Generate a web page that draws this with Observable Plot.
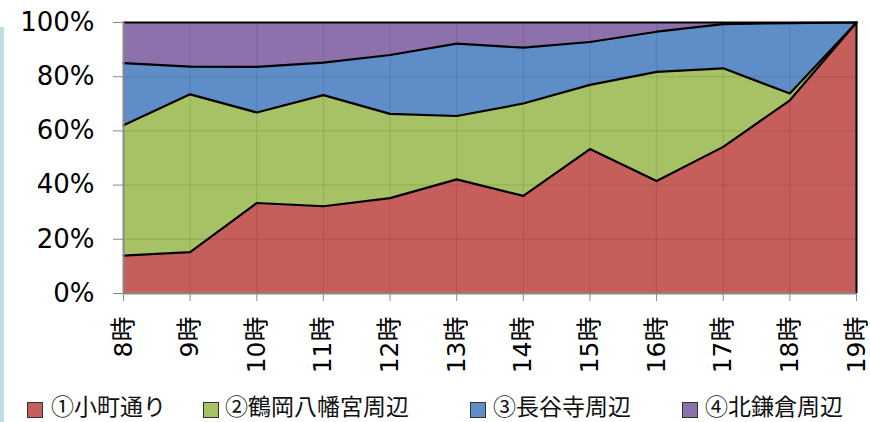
<!DOCTYPE html>
<html>
<head>
<meta charset="utf-8">
<script src="https://cdn.jsdelivr.net/npm/d3@7"></script>
<script src="https://cdn.jsdelivr.net/npm/@observablehq/plot@0.6"></script>
<style>
  html, body { margin: 0; padding: 0; background: white; }
  #wrap { position: relative; width: 870px; height: 422px; overflow: hidden; font-family: "DejaVu Sans", "Noto Sans CJK JP", sans-serif; }
  #strip { position: absolute; left: 0; top: 27px; width: 4px; height: 395px; background: #B9DFE6; z-index: 3; }
  #chart { position: absolute; left: 0; top: 0; z-index: 1; }
  #legend { position: absolute; left: 0; top: 0; width: 870px; height: 422px; z-index: 2; }
  .leg { position: absolute; top: 388px; height: 34px; line-height: 34px; font-family: "Noto Sans CJK JP", "DejaVu Sans", sans-serif; font-size: 23px; color: #111; white-space: nowrap; }
  .sw { position: absolute; top: 402px; width: 14px; height: 14px; border: 1.5px solid #333; }
</style>
</head>
<body>
<div id="wrap">
  <div id="chart"></div>
  <div id="legend"></div>
  <div id="strip"></div>
</div>
<script>
const hours = ["8時","9時","10時","11時","12時","13時","14時","15時","16時","17時","18時","19時"];
const series = ["①小町通り","②鶴岡八幡宮周辺","③長谷寺周辺","④北鎌倉周辺"];
const komachi      = [14.0, 15.3, 33.4, 32.2, 35.2, 42.1, 36.0, 53.3, 41.5, 54.1, 71.3, 100];
const hachiman     = [48.1, 58.2, 33.4, 41.0, 31.1, 23.4, 34.1, 23.7, 40.3, 29.0, 2.5, 0];
const hasedera     = [22.9, 10.2, 16.8, 12.0, 21.7, 26.7, 20.6, 15.8, 14.8, 16.3, 26.0, 0];
const kitakamakura = [15.0, 16.3, 16.4, 14.8, 12.0, 7.8, 9.3, 7.2, 3.4, 0.6, 0.2, 0];
const yTicks = [0, 20, 40, 60, 80, 100];
const colors = ["#C65F5B", "#A6C264", "#5F8DC7", "#8C71AD"];

const values = [komachi, hachiman, hasedera, kitakamakura];
const data = series.flatMap((s, i) => hours.map((h, j) => ({hour: h, series: s, value: values[i][j]})));

const chart = Plot.plot({
  width: 870,
  height: 390,
  marginLeft: 123,
  marginRight: 14,
  marginTop: 22,
  marginBottom: 97,
  x: {type: "point", domain: hours, padding: 0, round: false},
  y: {domain: [0, 100]},
  color: {domain: series, range: colors},
  style: {fontFamily: "'DejaVu Sans', 'Noto Sans CJK JP', sans-serif", fontSize: "26px", background: "white", color: "black", overflow: "visible"},
  marks: [
    Plot.areaY(data, {x: "hour", y: "value", z: "series", fill: "series"}),
    Plot.gridY({ticks: [20, 40, 60, 80], stroke: "#000", strokeOpacity: 0.08, strokeWidth: 1.5}),
    Plot.gridX({stroke: "#000", strokeOpacity: 0.08, strokeWidth: 1.5}),
    Plot.lineY(data, Plot.stackY2({x: "hour", y: "value", z: "series", stroke: "black", strokeWidth: 2.2})),
    Plot.ruleX([hours[hours.length - 1]], {stroke: "black", strokeWidth: 2}),
    Plot.ruleX([hours[0]], {stroke: "#8a8a8a", strokeWidth: 2}),
    Plot.ruleY([0], {stroke: "#8a8a8a", strokeWidth: 2}),
    Plot.axisY({ticks: yTicks, tickFormat: d => d + "%", tickSize: 10, tickPadding: 19, stroke: "#8a8a8a", fill: "black", label: null, fontSize: 26}),
    Plot.axisX({tickRotate: -90, tickSize: 8, tickPadding: 15, stroke: "#8a8a8a", fill: "black", label: null, fontSize: 25})
  ]
});
document.getElementById("chart").appendChild(chart);

const swX = [27, 203, 470, 682];
const txX = [51, 225, 493, 705];
const legend = document.getElementById("legend");
series.forEach((s, i) => {
  const sw = document.createElement("div");
  sw.className = "sw";
  sw.style.left = swX[i] + "px";
  sw.style.background = colors[i];
  legend.appendChild(sw);
  const t = document.createElement("div");
  t.className = "leg";
  t.style.left = txX[i] + "px";
  t.textContent = s;
  legend.appendChild(t);
});
</script>
</body>
</html>
